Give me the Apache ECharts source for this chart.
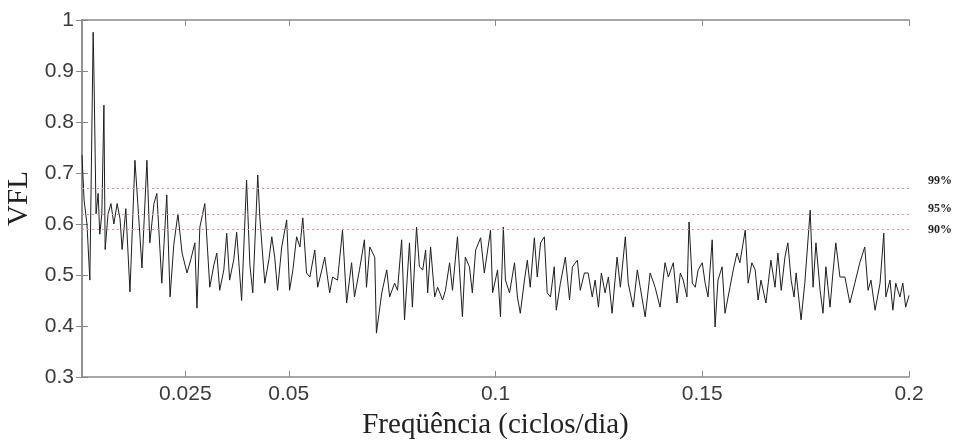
<!DOCTYPE html>
<html><head><meta charset="utf-8">
<script src="https://cdn.jsdelivr.net/npm/echarts@6/dist/echarts.min.js"></script>
<style>html,body{margin:0;padding:0;background:#fff}#c{width:967px;height:441px}</style>
</head><body><div id="c"></div>
<script>
const freq = [0,0.0005,0.0012,0.0019,0.0027,0.0029,0.0034,0.0039,0.0043,0.0048,0.0053,0.0056,0.0063,0.0070,0.0077,0.0085,0.0092,0.0097,0.0106,0.0116,0.0128,0.0135,0.0145,0.0157,0.0164,0.0174,0.0181,0.0193,0.0205,0.0213,0.0222,0.0232,0.0242,0.0254,0.0263,0.0273,0.0278,0.0285,0.0297,0.0309,0.0319,0.0326,0.0333,0.0343,0.0350,0.0357,0.0367,0.0374,0.0386,0.0398,0.0406,0.0413,0.0425,0.0430,
0.0442,0.0452,0.0459,0.0466,0.0473,0.0483,0.0495,0.0502,0.0510,0.0519,0.0527,0.0534,0.0543,0.0551,0.0563,0.0570,0.0580,0.0587,0.0599,0.0606,0.0618,0.0630,0.0640,0.0652,0.0659,0.0671,0.0683,0.0688,0.0696,0.0708,0.0712,0.0725,0.0737,0.0744,0.0756,0.0763,0.0773,0.0780,0.0792,0.0799,0.0809,0.0816,
0.0824,0.0831,0.0836,0.0843,0.0853,0.0860,0.0872,0.0879,0.0889,0.0896,0.0908,0.0920,0.0927,0.0937,0.0944,0.0952,0.0964,0.0973,0.0981,0.0988,0.0993,0.1005,0.1012,0.1019,0.1024,0.1034,0.1046,0.1053,0.1060,0.1070,0.1077,0.1084,0.1094,0.1101,0.1109,0.1118,0.1125,0.1133,0.1142,0.1147,0.1157,0.1169,0.1179,0.1186,0.1198,0.1205,0.1215,
0.1224,0.1234,0.1241,0.1249,0.1256,0.1265,0.1273,0.1282,0.1294,0.1302,0.1314,0.1321,0.1333,0.1343,0.1350,0.1362,0.1374,0.1386,0.1398,0.1410,0.1418,0.1430,0.1439,0.1447,0.1454,0.1463,0.1468,0.1476,0.1483,0.1490,0.1500,0.1507,0.1514,0.1524,0.1531,0.1538,0.1548,0.1555,0.1567,0.1575,0.1584,0.1591,0.1604,0.1611,0.1620,
0.1628,0.1635,0.1642,0.1654,0.1666,0.1676,0.1683,0.1691,0.1700,0.1707,0.1715,0.1722,0.1727,0.1739,0.1748,0.1761,0.1768,0.1775,0.1785,0.1792,0.1799,0.1809,0.1816,0.1823,0.1833,0.1845,0.1857,0.1869,0.1881,0.1893,0.1901,0.1908,0.1918,0.1930,0.1939,0.1944,0.1954,0.1961,0.1968,0.1978,0.1985,0.1992,0.2000];
const vfl = [0.735,0.647,0.600,0.490,0.976,0.890,0.620,0.660,0.580,0.620,0.833,0.550,0.620,0.640,0.600,0.640,0.610,0.550,0.630,0.467,0.725,0.640,0.514,0.725,0.563,0.640,0.660,0.484,0.657,0.457,0.560,0.620,0.543,0.504,0.530,0.563,0.435,0.594,0.640,0.476,0.520,0.543,0.470,0.510,0.582,0.490,0.530,0.584,0.450,0.686,0.520,0.465,0.696,0.614,
0.484,0.530,0.575,0.535,0.470,0.555,0.608,0.470,0.510,0.575,0.555,0.612,0.504,0.496,0.549,0.476,0.510,0.535,0.465,0.496,0.490,0.588,0.445,0.524,0.457,0.510,0.569,0.476,0.555,0.535,0.386,0.465,0.510,0.457,0.484,0.470,0.569,0.412,0.563,0.437,0.594,0.516,
0.510,0.549,0.465,0.555,0.457,0.476,0.451,0.470,0.524,0.470,0.575,0.418,0.535,0.516,0.465,0.549,0.573,0.504,0.549,0.588,0.465,0.510,0.418,0.594,0.490,0.465,0.524,0.457,0.425,0.490,0.529,0.476,0.573,0.496,0.563,0.575,0.465,0.457,0.516,0.431,0.484,0.535,0.451,0.516,0.529,0.470,0.504,
0.504,0.457,0.490,0.437,0.504,0.465,0.496,0.425,0.535,0.476,0.575,0.484,0.437,0.510,0.476,0.418,0.504,0.476,0.437,0.524,0.496,0.524,0.445,0.504,0.490,0.457,0.604,0.484,0.476,0.510,0.524,0.484,0.457,0.569,0.398,0.490,0.516,0.425,0.476,0.510,0.543,0.524,0.588,0.484,0.524,
0.510,0.451,0.490,0.445,0.529,0.476,0.543,0.470,0.535,0.563,0.490,0.457,0.504,0.412,0.484,0.627,0.476,0.563,0.470,0.425,0.516,0.437,0.504,0.563,0.496,0.496,0.445,0.484,0.524,0.555,0.470,0.490,0.431,0.484,0.582,0.457,0.490,0.431,0.484,0.457,0.484,0.437,0.460];
const xTicks = [0.025, 0.05, 0.1, 0.15, 0.2];
const thresholds = [0.667, 0.622, 0.592];
const thresholdLabels = ['99%', '95%', '90%'];

const chart = echarts.init(document.getElementById('c'), null, {renderer: 'canvas'});
const axisCol = '#8a8a8a';
const tickFont = {fontFamily: 'Liberation Sans', fontSize: 21, color: '#3a3a3a'};
const nameFont = {fontFamily: 'Liberation Serif', fontSize: 29, color: '#222'};
const pts = freq.map((f, i) => [f, vfl[i]]);

chart.setOption({
  animation: false,
  backgroundColor: '#fff',
  grid: {left: 82, right: 58, top: 20, bottom: 64, containLabel: false, outerBoundsMode: 'none'},
  xAxis: [{
    type: 'value', position: 'bottom', min: 0, max: 0.2,
    name: 'Freqüência (ciclos/dia)', nameLocation: 'middle', nameGap: 34, nameTextStyle: nameFont,
    axisLine: {show: true, lineStyle: {color: axisCol, width: 1.5}},
    axisTick: {show: true, inside: true, length: 6, customValues: xTicks, lineStyle: {color: axisCol}},
    axisLabel: {show: true, customValues: xTicks, margin: 7, ...tickFont},
    splitLine: {show: false}
  }, {
    type: 'value', position: 'top', min: 0, max: 0.2,
    axisLine: {show: true, lineStyle: {color: axisCol, width: 1.5}},
    axisTick: {show: true, inside: true, length: 6, customValues: xTicks, lineStyle: {color: axisCol}},
    axisLabel: {show: false}, splitLine: {show: false}
  }],
  yAxis: [{
    type: 'value', position: 'left', min: 0.3, max: 1, interval: 0.1,
    name: 'VFL', nameLocation: 'middle', nameGap: 42, nameTextStyle: nameFont,
    axisLine: {show: true, lineStyle: {color: axisCol, width: 1.5}},
    axisTick: {show: true, inside: true, length: 6, lineStyle: {color: axisCol}},
    axisLabel: {show: true, margin: 8, ...tickFont, formatter: v => String(+v.toFixed(1))},
    splitLine: {show: false}
  }, {
    type: 'value', position: 'right', min: 0.3, max: 1, interval: 0.1,
    axisLine: {show: true, lineStyle: {color: axisCol, width: 1.5}},
    axisTick: {show: true, inside: true, length: 6, lineStyle: {color: axisCol}},
    axisLabel: {show: false}, splitLine: {show: false}
  }],
  series: [{
    type: 'line', data: pts, showSymbol: false, symbol: 'none',
    lineStyle: {color: '#1e1e1e', width: 1}, clip: true,
    markLine: {
      silent: true, symbol: 'none', label: {show: false},
      lineStyle: {type: [2, 3], color: '#ee8f8f', width: 1},
      data: thresholds.map(v => ({yAxis: v}))
    }
  }],
  graphic: thresholdLabels.map((t, i) => ({
    type: 'text', left: 928, top: [175, 203, 224][i],
    style: {text: t, font: 'bold 12px "Liberation Serif"', fill: '#222'}
  }))
});
</script>
</body></html>
